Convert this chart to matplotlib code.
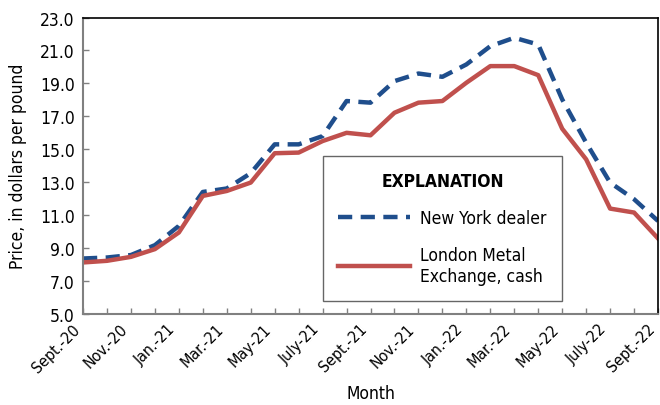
import matplotlib
matplotlib.use("Agg")
import matplotlib.pyplot as plt
from matplotlib import font_manager
from matplotlib.transforms import ScaledTranslation

months = ["Sept.-20", "Oct.-20", "Nov.-20", "Dec.-20", "Jan.-21", "Feb.-21", "Mar.-21",
          "Apr.-21", "May-21", "June-21", "July-21", "Aug.-21", "Sept.-21", "Oct.-21",
          "Nov.-21", "Dec.-21", "Jan.-22", "Feb.-22", "Mar.-22", "Apr.-22", "May-22",
          "June-22", "July-22", "Aug.-22", "Sept.-22"]
new_york = [8.37, 8.43, 8.58, 9.18, 10.35, 12.41, 12.62, 13.55, 15.30, 15.30, 15.80, 17.93,
            17.83, 19.14, 19.60, 19.40, 20.15, 21.26, 21.77, 21.36, 18.03, 15.40, 12.98, 11.97, 10.65]
london = [8.13, 8.23, 8.47, 8.94, 9.95, 12.17, 12.47, 12.98, 14.76, 14.80, 15.50, 16.00,
          15.85, 17.22, 17.83, 17.93, 19.04, 20.05, 20.05, 19.50, 16.25, 14.39, 11.40, 11.16, 9.59]
y_ticks = [5.0, 7.0, 9.0, 11.0, 13.0, 15.0, 17.0, 19.0, 21.0, 23.0]

# look for a narrow font file, the reference uses an Arial Narrow look
files = [f.fname for f in font_manager.fontManager.ttflist]
def find(keys):
    for k in keys:
        for fn in files:
            if fn.lower().endswith(k.lower()):
                return fn
    return None

reg_file = find(["LiberationSansNarrow-Regular.ttf", "DejaVuSansCondensed.ttf"])
bold_file = find(["LiberationSansNarrow-Bold.ttf", "DejaVuSansCondensed-Bold.ttf"])
if reg_file:
    fp = font_manager.FontProperties(fname=reg_file, size=12.5)
    fpx = font_manager.FontProperties(fname=reg_file, size=11.5)
    fpb = font_manager.FontProperties(fname=bold_file or reg_file, size=12.5)
else:
    fp = font_manager.FontProperties(family="Liberation Sans", size=11)
    fpx = font_manager.FontProperties(family="Liberation Sans", size=10.5)
    fpb = font_manager.FontProperties(family="Liberation Sans", weight="bold", size=11)

blue = "#1f4e8c"
red = "#c0504d"
gray = "#808080"

fig = plt.figure(figsize=(6.6, 4.06), dpi=100)
ax = fig.add_axes([0.1258, 0.2241, 0.8712, 0.7303])

x = list(range(len(months)))
ax.plot(x, new_york, color=blue, lw=3.2, dashes=(3.2, 1.9), label="New York dealer",
        solid_capstyle="butt", dash_capstyle="butt")
ax.plot(x, london, color=red, lw=3.2, label="London Metal\nExchange, cash")

ax.set_xlim(0, len(months) - 1)
ax.set_ylim(5, 23)
ax.set_yticks(y_ticks)
ax.set_yticklabels([f"{v:.1f}" for v in y_ticks], fontproperties=fp)
ax.set_xticks(x)
ax.set_xticklabels([m if i % 2 == 0 else "" for i, m in enumerate(months)],
                   rotation=45, ha="right", rotation_mode="anchor", fontproperties=fpx)
ax.tick_params(axis="both", direction="in", length=4, width=1, color=gray, pad=5)
ax.tick_params(axis="y", pad=6)
shift = ScaledTranslation(-8 / 72, 0, fig.dpi_scale_trans)
for lab in ax.get_xticklabels():
    lab.set_transform(lab.get_transform() + shift)

for side in ["left", "bottom"]:
    ax.spines[side].set_color(gray)
    ax.spines[side].set_linewidth(1.5)
for side in ["top", "right"]:
    ax.spines[side].set_color("black")
    ax.spines[side].set_linewidth(1.2)

ax.set_ylabel("Price, in dollars per pound", fontproperties=fp, labelpad=9)
ax.set_xlabel("Month", fontproperties=fp, labelpad=7)

leg = ax.legend(loc="upper left", bbox_to_anchor=(0.417, 0.054, 0.416, 0.478), mode="expand",
                title="EXPLANATION", prop=fp, title_fontproperties=fpb,
                frameon=True, fancybox=False, edgecolor="#404040", handlelength=4.1,
                handletextpad=0.6, borderpad=0.9, labelspacing=1.1, borderaxespad=0)
leg.get_frame().set_linewidth(1.0)

fig.savefig("out.png", dpi=100)
